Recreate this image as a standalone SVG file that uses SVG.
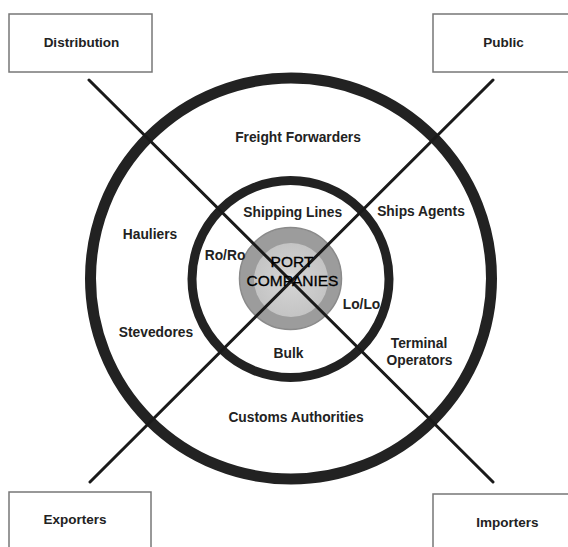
<svg xmlns="http://www.w3.org/2000/svg" width="568" height="547" viewBox="0 0 568 547">
<defs>
<radialGradient id="core" cx="0.5" cy="0.5" r="0.5">
<stop offset="0" stop-color="#eeeeee"/>
<stop offset="0.2" stop-color="#d2d2d2"/>
<stop offset="1" stop-color="#c4c4c4"/>
</radialGradient>
<style>
.box{fill:#fff;stroke:#777;stroke-width:1.5}
.bl{font-family:"Liberation Sans",Arial,sans-serif;font-weight:bold;font-size:13.5px;fill:#222;text-anchor:middle}
.lbl{font-family:"Liberation Sans",Arial,sans-serif;font-weight:bold;font-size:13.8px;fill:#222;text-anchor:middle}
.ring{fill:none;stroke:#222}
.ln{stroke:#1a1a1a;stroke-width:3;stroke-linecap:round}
.core{font-family:"Liberation Sans",Arial,sans-serif;font-size:15.5px;fill:#000;stroke:#000;stroke-width:0.3;text-anchor:middle}
</style>
</defs>
<rect width="568" height="547" fill="#fff"/>
<g id="distribution"><rect class="box" x="9" y="14" width="143" height="58"/><text class="bl" x="81.5" y="46.5">Distribution</text></g>
<g id="public"><rect class="box" x="433" y="14" width="150" height="58"/><text class="bl" x="503.5" y="46.5">Public</text></g>
<g id="exporters"><rect class="box" x="9" y="492" width="142" height="70"/><text class="bl" x="75" y="524">Exporters</text></g>
<g id="importers"><rect class="box" x="433" y="494" width="150" height="70"/><text class="bl" x="507.5" y="527">Importers</text></g>
<g id="rings">
<circle class="ring" cx="291" cy="278.5" r="200.5" stroke-width="11"/>
<circle class="ring" cx="290.5" cy="279" r="98.5" stroke-width="9"/>
</g>
<g id="port-companies">
<circle cx="290.5" cy="278.5" r="51" fill="#9c9c9c" stroke="#8a8a8a" stroke-width="1.5"/>
<circle cx="291" cy="280" r="37" fill="url(#core)"/>
</g>
<g id="connectors">
<line class="ln" x1="89" y1="80" x2="493" y2="482"/>
<line class="ln" x1="493" y1="80" x2="90" y2="482"/>
</g>
<g id="port-text">
<text class="core" x="292" y="267">PORT</text>
<text class="core" x="292.5" y="285.5">COMPANIES</text>
</g>
<g id="freight-forwarders"><text class="lbl" x="298" y="141.5">Freight Forwarders</text></g>
<g id="shipping-lines"><text class="lbl" x="292.7" y="216.5">Shipping Lines</text></g>
<g id="ships-agents"><text class="lbl" x="421" y="215.5">Ships Agents</text></g>
<g id="hauliers"><text class="lbl" x="150" y="239">Hauliers</text></g>
<g id="roro"><text class="lbl" x="225" y="260">Ro/Ro</text></g>
<g id="lolo"><text class="lbl" x="361.5" y="309">Lo/Lo</text></g>
<g id="stevedores"><text class="lbl" x="156" y="336.5">Stevedores</text></g>
<g id="bulk"><text class="lbl" x="288.5" y="358">Bulk</text></g>
<g id="terminal-operators"><text class="lbl" x="419" y="348">Terminal</text><text class="lbl" x="419.5" y="365">Operators</text></g>
<g id="customs-authorities"><text class="lbl" x="296" y="421.5">Customs Authorities</text></g>
</svg>
